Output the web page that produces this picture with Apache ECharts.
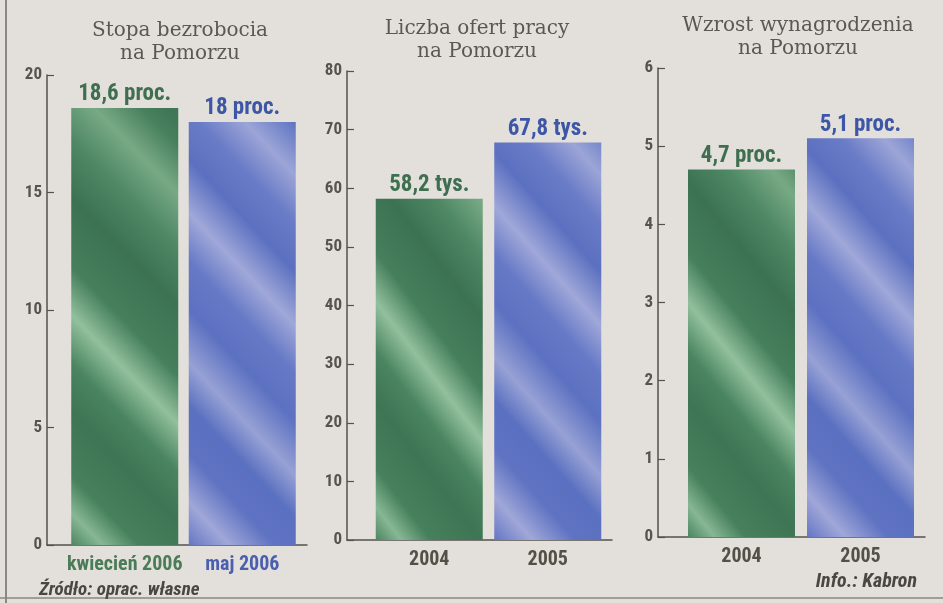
<!DOCTYPE html>
<html>
<head>
<meta charset="utf-8">
<script src="https://cdn.jsdelivr.net/npm/echarts@6/dist/echarts.min.js"></script>
<style>
html,body{margin:0;padding:0;background:#e3dfda;}
#c{width:943px;height:603px;}
</style>
</head>
<body>
<div id="c"></div>
<script>
// ---- data ----
const titles = ['Stopa bezrobocia\nna Pomorzu', 'Liczba ofert pracy\nna Pomorzu', 'Wzrost wynagrodzenia\nna Pomorzu'];
const categories1 = ['kwiecień 2006', 'maj 2006'];
const values1 = [18.6, 18];
const categories2 = ['2004', '2005'];
const values2 = [58.2, 67.8];
const categories3 = ['2004', '2005'];
const values3 = [4.7, 5.1];
const units = ['proc.', 'tys.', 'proc.'];
const yMax = [20, 80, 6];
const yStep = [5, 10, 1];
const sourceText = 'Źródło: oprac. własne';
const infoText = 'Info.: Kabron';

// ---- layout / style ----
const cats = [categories1, categories2, categories3];
const vals = [values1, values2, values3];
const axisBox = [ {l:47, r:307, t:75, b:545}, {l:347, r:612, t:71, b:540}, {l:658, r:925, t:68, b:537} ];
const barBox = [ {l:66, r:301}, {l:370, r:607}, {l:682, r:920} ];
const titleX = [175, 472, 793];
const titleY = [14, 12, 9];
const NARROW = '"Roboto Condensed", "Liberation Sans Narrow", Roboto, sans-serif';

function greenFill() {
  return { type:'linear', x:0, y:1, x2:2.5, y2:0.4, colorStops:[
    {offset:0, color:'#4c8461'}, {offset:0.06, color:'#87b794'}, {offset:0.13, color:'#47805c'},
    {offset:0.25, color:'#3e7554'}, {offset:0.34, color:'#4a8460'}, {offset:0.43, color:'#92c09d'},
    {offset:0.52, color:'#467f5c'}, {offset:0.65, color:'#3c7252'}, {offset:0.76, color:'#4f8865'},
    {offset:0.86, color:'#78a985'}, {offset:0.95, color:'#48805d'}, {offset:1, color:'#3f7756'}
  ]};
}
function blueFill() {
  return { type:'linear', x:0, y:1, x2:2.5, y2:0.4, colorStops:[
    {offset:0, color:'#6476c4'}, {offset:0.08, color:'#a0a7d8'}, {offset:0.17, color:'#5f73c2'},
    {offset:0.26, color:'#5a70c0'}, {offset:0.34, color:'#97a1d5'}, {offset:0.44, color:'#5c71c1'},
    {offset:0.53, color:'#6679c6'}, {offset:0.62, color:'#a0a8d9'}, {offset:0.72, color:'#5b70c0'},
    {offset:0.81, color:'#6a7cc7'}, {offset:0.9, color:'#9ca5d7'}, {offset:1, color:'#5d73c2'}
  ]};
}
const barColors = [greenFill, blueFill];
const valueLabelColors = ['#3e6f50', '#3d57a6'];
const catLabelColors = [['#4a7c58', '#4a5fb0'], ['#545048', '#545048'], ['#545048', '#545048']];

const grid = [], xAxis = [], yAxis = [], series = [], title = [];
for (let i = 0; i < 3; i++) {
  const a = axisBox[i], bb = barBox[i];
  grid.push({ left:a.l, top:a.t, width:a.r - a.l, height:a.b - a.t, outerBoundsMode:'none', containLabel:false });
  grid.push({ left:bb.l, top:a.t, width:bb.r - bb.l, height:a.b - a.t, outerBoundsMode:'none', containLabel:false });
  xAxis.push({ type:'category', gridIndex:2*i, data:cats[i],
    axisLine:{show:true, lineStyle:{color:'#55524d', width:1.5}},
    axisTick:{show:false}, axisLabel:{show:false}, splitLine:{show:false} });
  xAxis.push({ type:'category', gridIndex:2*i+1, data:cats[i],
    axisLine:{show:false}, axisTick:{show:false}, splitLine:{show:false},
    axisLabel:{ show:true, interval:0, margin:10, fontFamily:NARROW, fontWeight:'bold', fontSize:20,
      color:(v, idx) => catLabelColors[i][idx] } });
  yAxis.push({ type:'value', gridIndex:2*i, min:0, max:yMax[i], interval:yStep[i],
    axisLine:{show:true, lineStyle:{color:'#55524d', width:1.5}},
    axisTick:{show:true, inside:true, length:7, lineStyle:{color:'#55524d', width:1.2}},
    splitLine:{show:false},
    axisLabel:{ margin:5, fontFamily:NARROW, fontWeight:'bold', fontSize:17, color:'#57534d' } });
  yAxis.push({ type:'value', gridIndex:2*i+1, min:0, max:yMax[i], interval:yStep[i], show:false,
    splitLine:{show:false} });
  const unit = units[i];
  series.push({
    type:'bar', xAxisIndex:2*i+1, yAxisIndex:2*i+1, barWidth:107,
    data: vals[i].map((v, idx) => ({
      value: v,
      itemStyle: { color: barColors[idx]() },
      label: { color: valueLabelColors[idx] }
    })),
    label: { show:true, position:'top', distance:2, fontFamily:NARROW, fontWeight:'bold', fontSize:23,
      formatter: p => String(p.value).replace('.', ',') + ' ' + unit },
    silent:true, animation:false
  });
  title.push({ text:titles[i], left:titleX[i], top:titleY[i], textAlign:'center',
    textStyle:{ fontFamily:'"DejaVu Serif", "Liberation Serif", serif', fontWeight:'normal', fontSize:20,
      lineHeight:23, color:'#5b5854' } });
}
title.push({ text:sourceText, left:34, top:576,
  textStyle:{ fontFamily:NARROW, fontStyle:'italic', fontWeight:'bold', fontSize:19, color:'#4a4743' } });
title.push({ text:infoText, right:21, top:567,
  textStyle:{ fontFamily:NARROW, fontStyle:'italic', fontWeight:'bold', fontSize:20, color:'#4a4743' } });

const chart = echarts.init(document.getElementById('c'), null, {renderer:'canvas'});
chart.setOption({
  backgroundColor:'#e3dfda',
  animation:false,
  title, grid, xAxis, yAxis, series,
  graphic:[
    { type:'line', shape:{x1:6, y1:0, x2:6, y2:603}, style:{stroke:'#6e6a65', lineWidth:1.5} },
    { type:'line', shape:{x1:0, y1:598, x2:943, y2:598}, style:{stroke:'#8a8680', lineWidth:1.5} }
  ]
});
</script>
</body>
</html>
